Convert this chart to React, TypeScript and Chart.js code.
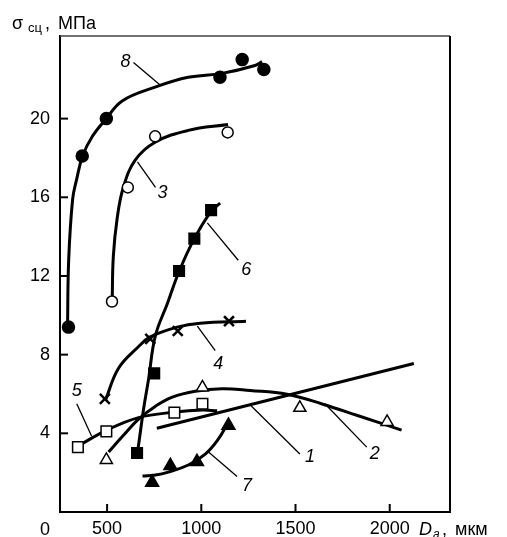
import React, { useEffect, useRef } from 'react';
import { Chart, registerables } from 'chart.js';

Chart.register(...registerables);

const FONT = '"Liberation Sans", Arial, Helvetica, sans-serif';

const xTicks = [500, 1000, 1500, 2000];
const yTicks = [4, 8, 12, 16, 20];

// measured points (markers)
const s8X = [295, 368, 496, 1099, 1217, 1332];
const s8Y = [9.4, 18.1, 20.0, 22.1, 23.0, 22.5];
const s3X = [526, 610, 755, 1140];
const s3Y = [10.7, 16.5, 19.1, 19.3];
const s6X = [659, 750, 882, 963, 1052];
const s6Y = [3.0, 7.05, 12.25, 13.9, 15.35];
const s4X = [488, 729, 875, 1147];
const s4Y = [5.75, 8.8, 9.2, 9.7];
const s5X = [345, 496, 857, 1006];
const s5Y = [3.3, 4.1, 5.05, 5.5];
const s2X = [496, 1006, 1523, 1986];
const s2Y = [2.65, 6.33, 5.3, 4.58];
const s7X = [739, 836, 977, 1144];
const s7Y = [1.5, 2.35, 2.55, 4.4];

// fitted curves
const f8X = [290, 296, 317, 338, 370, 422, 496, 580, 755, 930, 1110, 1285, 1322];
const f8Y = [9.4, 12.8, 15.9, 16.9, 18.1, 19.1, 20.0, 20.9, 21.6, 22.1, 22.3, 22.7, 22.9];
const f3X = [527, 533, 553, 586, 650, 755, 930, 1142];
const f3Y = [10.8, 13.0, 14.9, 16.5, 17.9, 18.8, 19.4, 19.7];
const f6X = [660, 666, 693, 720, 756, 820, 883, 963, 1053, 1100];
const f6Y = [3.1, 3.35, 5.2, 6.75, 8.95, 10.6, 12.25, 13.9, 15.3, 15.7];
const f4X = [492, 560, 666, 729, 872, 994, 1237];
const f4Y = [5.7, 7.3, 8.4, 8.9, 9.4, 9.6, 9.7];
const f5X = [345, 496, 667, 862, 1005, 1084];
const f5Y = [3.35, 4.15, 4.8, 5.08, 5.18, 5.15];
const f2X = [508, 582, 667, 757, 846, 968, 1110, 1259, 1455, 1645, 1825, 2063];
const f2Y = [3.05, 3.85, 4.72, 5.38, 5.84, 6.14, 6.27, 6.18, 5.99, 5.48, 4.92, 4.16];
const f7X = [688, 757, 825, 931, 1021, 1090, 1138];
const f7Y = [1.83, 1.88, 2.03, 2.39, 2.94, 3.7, 4.47];
const f1X = [764, 2128];
const f1Y = [4.26, 7.55];

// curve labels and leader lines
const labelText = ['8', '3', '6', '4', '5', '7', '1', '2'];
const labelX = [598, 794, 1238, 1090, 339, 1243, 1577, 1920];
const labelY = [22.9, 16.2, 12.3, 7.5, 6.15, 1.3, 2.8, 2.95];
const leadX1 = [640, 661, 1032, 979, 339, 1032, 1264, 1656];
const leadY1 = [22.85, 17.8, 14.7, 9.45, 5.5, 3.1, 5.4, 5.5];
const leadX2 = [783, 757, 1196, 1074, 418, 1190, 1523, 1878];
const leadY2 = [21.7, 16.5, 12.8, 8.2, 3.85, 1.8, 2.95, 3.3];

const X_MIN = 250;
const X_MAX = 2320;
const Y_MIN = 0;
const Y_MAX = 24.2;

const pts = (xs: number[], ys: number[]) => xs.map((x, i) => ({ x, y: ys[i] }));

function curve(xs: number[], ys: number[], tension = 0.4) {
  return {
    type: 'line' as const,
    data: pts(xs, ys),
    showLine: true,
    borderColor: '#000',
    borderWidth: 3,
    pointRadius: 0,
    tension,
    fill: false,
    order: 2,
  };
}

function markers(xs: number[], ys: number[], style: string, filled: boolean, radius: number, bw = 1.5) {
  return {
    type: 'scatter' as const,
    data: pts(xs, ys),
    showLine: false,
    pointStyle: style,
    pointRadius: radius,
    pointBackgroundColor: filled ? '#000' : '#fff',
    pointBorderColor: '#000',
    pointBorderWidth: bw,
    order: 0,
  };
}

const decorPlugin = {
  id: 'decor',
  afterDraw(chart: any) {
    const { ctx, chartArea } = chart;
    const xs = chart.scales.x;
    const ys = chart.scales.y;
    const { left, right, top, bottom } = chartArea;
    ctx.save();
    // frame top & right
    ctx.strokeStyle = '#444';
    ctx.lineWidth = 1.5;
    ctx.beginPath();
    ctx.moveTo(left, top);
    ctx.lineTo(right, top);
    ctx.stroke();
    ctx.strokeStyle = '#000';
    ctx.lineWidth = 2;
    ctx.beginPath();
    ctx.moveTo(right, top);
    ctx.lineTo(right, bottom);
    ctx.stroke();
    // inward ticks
    ctx.lineWidth = 2;
    xTicks.forEach((v) => {
      const p = xs.getPixelForValue(v);
      ctx.beginPath();
      ctx.moveTo(p, bottom);
      ctx.lineTo(p, bottom - 8);
      ctx.stroke();
    });
    yTicks.forEach((v) => {
      const p = ys.getPixelForValue(v);
      ctx.beginPath();
      ctx.moveTo(left, p);
      ctx.lineTo(left + 8, p);
      ctx.stroke();
    });
    // leader lines
    ctx.lineWidth = 1.3;
    labelText.forEach((_, i) => {
      ctx.beginPath();
      ctx.moveTo(xs.getPixelForValue(leadX1[i]), ys.getPixelForValue(leadY1[i]));
      ctx.lineTo(xs.getPixelForValue(leadX2[i]), ys.getPixelForValue(leadY2[i]));
      ctx.stroke();
    });
    // curve labels
    ctx.fillStyle = '#000';
    ctx.font = `italic 18px ${FONT}`;
    ctx.textAlign = 'center';
    ctx.textBaseline = 'middle';
    labelText.forEach((t, i) => {
      ctx.fillText(t, xs.getPixelForValue(labelX[i]), ys.getPixelForValue(labelY[i]));
    });
    // origin "0"
    ctx.font = `18px ${FONT}`;
    ctx.textAlign = 'right';
    ctx.textBaseline = 'alphabetic';
    ctx.fillText('0', left - 10, bottom + 23);
    // y title
    ctx.textAlign = 'left';
    ctx.font = `18px ${FONT}`;
    ctx.fillText('σ', 12, 29);
    ctx.font = `13px ${FONT}`;
    ctx.fillText('сц', 28, 32);
    ctx.font = `18px ${FONT}`;
    ctx.fillText(',', 45, 29);
    ctx.fillText('МПа', 58, 29);
    // x title
    ctx.font = `italic 18px ${FONT}`;
    ctx.fillText('D', 419, bottom + 23);
    ctx.font = `italic 12px ${FONT}`;
    ctx.fillText('a', 433, bottom + 26);
    ctx.font = `18px ${FONT}`;
    ctx.fillText(',', 442, bottom + 23);
    ctx.fillText('мкм', 455, bottom + 23);
    ctx.restore();
  },
};

export default function App() {
  const ref = useRef<HTMLCanvasElement | null>(null);
  useEffect(() => {
    if (!ref.current) return;
    const chart = new Chart(ref.current, {
      type: 'scatter',
      data: {
        datasets: [
          markers(s8X, s8Y, 'circle', true, 6),
          markers(s3X, s3Y, 'circle', false, 5.5),
          markers(s6X, s6Y, 'rect', true, 7.5),
          markers(s4X, s4Y, 'crossRot', false, 7, 2.5),
          markers(s5X, s5Y, 'rect', false, 7.5),
          markers(s2X, s2Y, 'triangle', false, 7),
          markers(s7X, s7Y, 'triangle', true, 7.5),
          curve(f8X, f8Y),
          curve(f3X, f3Y),
          curve(f6X, f6Y),
          curve(f4X, f4Y),
          curve(f5X, f5Y),
          curve(f2X, f2Y),
          curve(f7X, f7Y),
          curve(f1X, f1Y, 0),
        ] as any,
      },
      options: {
        animation: false,
        responsive: false,
        devicePixelRatio: 1,
        layout: { padding: { top: 36, right: 57, left: 0, bottom: 0 } },
        plugins: { legend: { display: false }, tooltip: { enabled: false } },
        scales: {
          x: {
            type: 'linear',
            min: X_MIN,
            max: X_MAX,
            afterBuildTicks: (s: any) => {
              s.ticks = xTicks.map((v) => ({ value: v }));
            },
            afterFit: (s: any) => {
              s.height = 25;
            },
            ticks: {
              color: '#000',
              font: { family: FONT, size: 18 },
              padding: 6,
              maxRotation: 0,
              autoSkip: false,
              callback: (v: any) => String(v),
            },
            grid: { drawOnChartArea: false, drawTicks: false },
            border: { color: '#000', width: 2 },
          },
          y: {
            type: 'linear',
            min: Y_MIN,
            max: Y_MAX,
            afterBuildTicks: (s: any) => {
              s.ticks = yTicks.map((v) => ({ value: v }));
            },
            afterFit: (s: any) => {
              s.width = 60;
            },
            ticks: {
              color: '#000',
              font: { family: FONT, size: 18 },
              padding: 10,
              autoSkip: false,
              callback: (v: any) => String(v),
            },
            grid: { drawOnChartArea: false, drawTicks: false },
            border: { color: '#000', width: 2 },
          },
        },
      } as any,
      plugins: [decorPlugin],
    });
    return () => chart.destroy();
  }, []);
  return (
    <div style={{ position: 'absolute', left: 0, top: 0, width: 507, height: 537, background: '#fff' }}>
      <canvas ref={ref} width={507} height={537} />
    </div>
  );
}
